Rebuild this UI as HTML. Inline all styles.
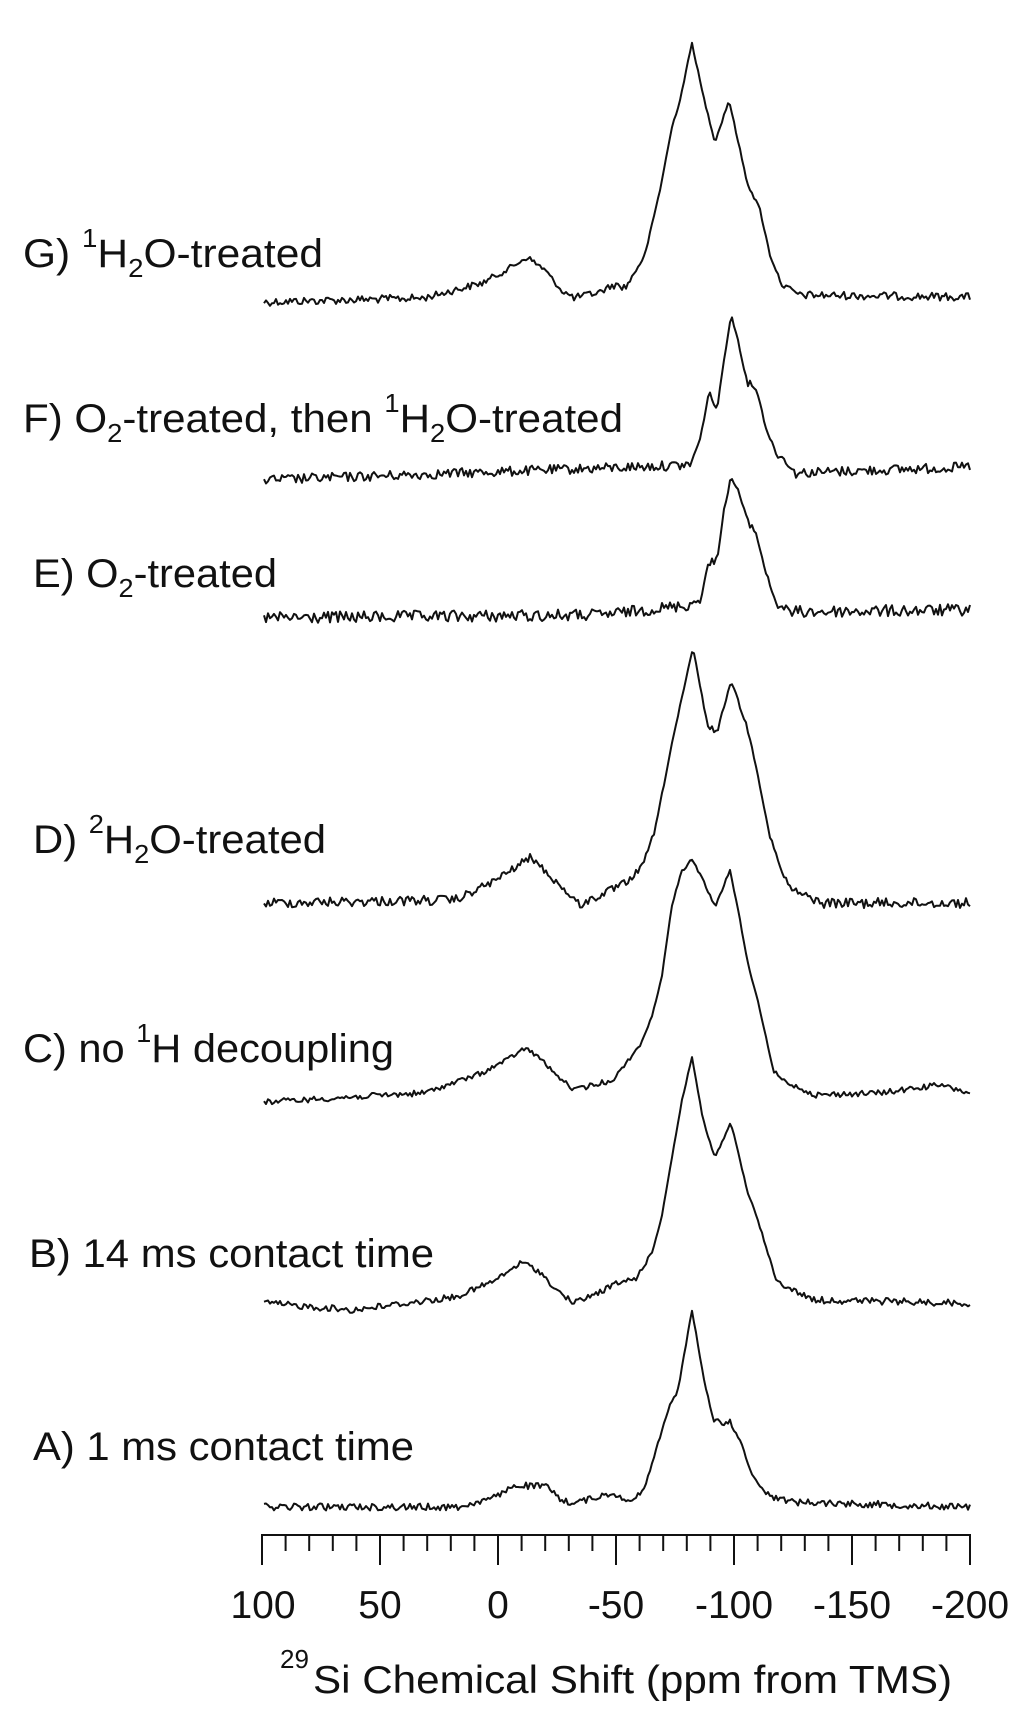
<!DOCTYPE html>
<html><head><meta charset="utf-8"><style>
html,body{margin:0;padding:0;background:#fff;}
svg{display:block;}
text{font-family:"Liberation Sans",Arial,sans-serif;fill:#111;}
</style></head><body>
<svg id="s" width="1024" height="1721" viewBox="0 0 1024 1721" xmlns="http://www.w3.org/2000/svg">
<g font-size="40">
<text x="23" y="267" textLength="300" lengthAdjust="spacingAndGlyphs">G) <tspan font-size="26" dy="-20">1</tspan><tspan dy="20">H</tspan><tspan font-size="26" dy="10">2</tspan><tspan dy="-10">O-treated</tspan></text>
<text x="23" y="432" textLength="600" lengthAdjust="spacingAndGlyphs">F) O<tspan font-size="26" dy="10">2</tspan><tspan dy="-10">-treated, then </tspan><tspan font-size="26" dy="-20">1</tspan><tspan dy="20">H</tspan><tspan font-size="26" dy="10">2</tspan><tspan dy="-10">O-treated</tspan></text>
<text x="33" y="587" textLength="244" lengthAdjust="spacingAndGlyphs">E) O<tspan font-size="26" dy="10">2</tspan><tspan dy="-10">-treated</tspan></text>
<text x="33" y="853" textLength="293" lengthAdjust="spacingAndGlyphs">D) <tspan font-size="26" dy="-20">2</tspan><tspan dy="20">H</tspan><tspan font-size="26" dy="10">2</tspan><tspan dy="-10">O-treated</tspan></text>
<text x="23" y="1062" textLength="371" lengthAdjust="spacingAndGlyphs">C) no <tspan font-size="26" dy="-20">1</tspan><tspan dy="20">H decoupling</tspan></text>
<text x="29" y="1267" textLength="405" lengthAdjust="spacingAndGlyphs">B) 14 ms contact time</text>
<text x="33" y="1460" textLength="381" lengthAdjust="spacingAndGlyphs">A) 1 ms contact time</text>
</g>
<g font-size="39" text-anchor="middle">
<text x="263" y="1618">100</text>
<text x="380" y="1618">50</text>
<text x="498" y="1618">0</text>
<text x="616" y="1618">-50</text>
<text x="734" y="1618">-100</text>
<text x="852" y="1618">-150</text>
<text x="970" y="1618">-200</text>
</g>
<text x="280" y="1668" font-size="26">29</text>
<text x="313" y="1693" font-size="39" textLength="639" lengthAdjust="spacingAndGlyphs">Si Chemical Shift (ppm from TMS)</text>
<g id="ax" stroke="#111" stroke-width="2" fill="none"></g>
<g id="tr" stroke="#111" stroke-width="2" fill="none" stroke-linejoin="round"></g>
</svg>
<script>
var NS="http://www.w3.org/2000/svg";
var ax=document.getElementById("ax");
function ln(x1,y1,x2,y2){var l=document.createElementNS(NS,"line");l.setAttribute("x1",x1);l.setAttribute("y1",y1);l.setAttribute("x2",x2);l.setAttribute("y2",y2);ax.appendChild(l);}
ln(262,1535,971,1535);
for(var i=0;i<=30;i++){var x=262+i*23.6;ln(x,1534,x,1535+(i%5==0?30:16));}
var seed=12345;function rnd(){seed=(seed*1103515245+12345)%2147483648;return seed/2147483648;}
var T=[
{a:4,p:[[264,302],[424,298],[482,283],[510,268],[527,257],[545,270],[561,290],[574,298],[600,292],[613,285],[626,287],[645,255],[660,190],[672,127],[680,100],[692,43],[703,95],[715,142],[729,100],[740,150],[747,182],[760,210],[770,255],[782,285],[800,295],[970,297]]},
{a:5,p:[[264,480],[690,465],[700,440],[709,392],[717,410],[724,360],[731,315],[738,340],[747,382],[756,387],[766,428],[776,453],[785,460],[795,473],[970,467]]},
{a:6,p:[[264,618],[600,615],[690,605],[701,598],[708,565],[717,560],[724,510],[731,477],[738,490],[747,520],[756,533],[766,573],[776,603],[790,612],[970,610]]},
{a:5,p:[[264,903],[456,900],[496,880],[531,857],[554,880],[580,905],[626,883],[642,867],[655,830],[672,743],[693,648],[707,723],[717,733],[731,680],[747,727],[756,765],[769,833],[782,873],[792,890],[822,903],[970,903]]},
{a:3,p:[[264,1102],[424,1093],[482,1073],[510,1058],[525,1048],[540,1058],[554,1073],[574,1090],[613,1080],[640,1045],[652,1017],[662,975],[672,905],[682,870],[692,860],[703,880],[715,907],[730,870],[740,920],[747,960],[760,1010],[773,1070],[782,1080],[815,1095],[880,1093],[939,1085],[970,1093]]},
{a:3.5,p:[[264,1303],[352,1310],[456,1297],[496,1280],[522,1262],[540,1272],[556,1290],[574,1303],[600,1292],[613,1285],[636,1278],[652,1253],[662,1215],[672,1157],[682,1100],[692,1057],[703,1120],[715,1158],[731,1123],[747,1190],[760,1227],[776,1280],[792,1290],[815,1300],[970,1303]]},
{a:3.5,p:[[264,1507],[460,1507],[496,1497],[515,1485],[548,1487],[561,1500],[574,1503],[613,1493],[632,1502],[645,1487],[659,1440],[668,1410],[678,1390],[692,1310],[704,1380],[714,1422],[730,1422],[740,1440],[750,1470],[763,1490],[773,1497],[795,1502],[970,1507]]}
];
var tr=document.getElementById("tr");
T.forEach(function(t){
 var p=t.p,d="",k=0;
 for(var x=p[0][0];x<=970;x+=2){
  while(k<p.length-2&&x>p[k+1][0])k++;
  var a=p[k],b=p[k+1],f=(x-a[0])/(b[0]-a[0]);if(f>1)f=1;
  var y=a[1]+(b[1]-a[1])*f;
  var slope=Math.abs(b[1]-a[1])/(b[0]-a[0]);
  var amp=t.a/(1+slope*0.5);
  y+=(rnd()-0.5)*2*amp;
  d+=(d?"L":"M")+x.toFixed(1)+","+y.toFixed(1);
 }
 var pa=document.createElementNS(NS,"path");pa.setAttribute("d",d);tr.appendChild(pa);
});
</script>
</body></html>
